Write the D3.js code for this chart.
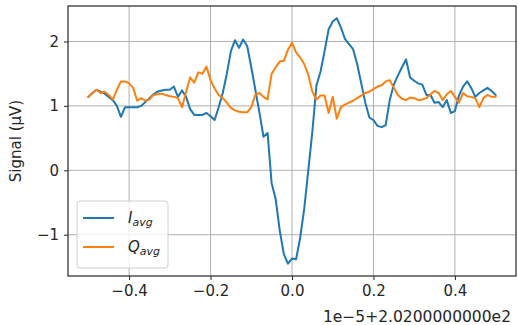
<!DOCTYPE html>
<html>
<head>
<meta charset="utf-8">
<script src="https://cdn.jsdelivr.net/npm/d3@7"></script>
<style>
  html, body { margin: 0; padding: 0; background: #fff; }
  svg { display: block; }
  text { font-family: "DejaVu Sans", sans-serif; fill: #262626; }
</style>
</head>
<body>
<svg id="chart" width="518" height="325"></svg>
<script>
// Frequency offset grid (units of 1e-5 around 202.0), 101 samples
const freqOffsets = d3.range(101).map(i => -0.5 + i * 0.01);

// Averaged in-phase signal (µV)
const iAvg = [
  1.14, 1.20, 1.25, 1.22, 1.19, 1.14, 1.09, 1.00, 0.83, 0.98,
  0.98, 0.98, 0.98, 1.00, 1.06, 1.12, 1.18, 1.22, 1.24, 1.25,
  1.25, 1.30, 1.14, 1.24, 1.14, 0.95, 0.86, 0.86, 0.86, 0.89,
  0.84, 0.78, 0.98, 1.20, 1.50, 1.85, 2.02, 1.90, 2.03, 1.93,
  1.60, 1.25, 0.90, 0.52, 0.58, -0.20, -0.45, -0.94, -1.30, -1.45,
  -1.37, -1.38, -1.05, -0.60, 0.00, 0.60, 1.32, 1.53, 1.85, 2.19,
  2.31, 2.36, 2.22, 2.04, 1.96, 1.88, 1.65, 1.35, 1.05, 0.82,
  0.78, 0.69, 0.67, 0.70, 1.09, 1.33, 1.47, 1.60, 1.72, 1.44,
  1.39, 1.35, 1.33, 1.17, 1.17, 1.05, 1.06, 0.98, 1.09, 0.89,
  0.92, 1.16, 1.30, 1.38, 1.28, 1.14, 1.20, 1.24, 1.28, 1.23,
  1.17
];

// Averaged quadrature signal (µV)
const qAvg = [
  1.14, 1.20, 1.25, 1.20, 1.22, 1.17, 1.10, 1.25, 1.38, 1.38,
  1.35, 1.28, 1.08, 1.12, 1.08, 1.10, 1.17, 1.18, 1.19, 1.17,
  1.15, 1.14, 1.12, 0.98, 1.22, 1.44, 1.36, 1.52, 1.50, 1.61,
  1.40, 1.27, 1.17, 1.12, 1.05, 0.97, 0.93, 0.91, 0.90, 0.90,
  0.98, 1.17, 1.20, 1.14, 1.10, 1.50, 1.60, 1.69, 1.70, 1.87,
  1.98, 1.83, 1.75, 1.65, 1.48, 1.22, 1.10, 1.16, 1.16, 0.89,
  1.14, 0.80, 0.98, 1.02, 1.05, 1.08, 1.12, 1.16, 1.20, 1.22,
  1.26, 1.30, 1.32, 1.38, 1.40, 1.28, 1.17, 1.11, 1.09, 1.13,
  1.12, 1.09, 1.10, 1.12, 1.18, 1.23, 1.20, 1.09, 1.18, 1.23,
  1.14, 1.05, 1.20, 1.15, 1.14, 1.12, 0.98, 1.12, 1.17, 1.14,
  1.14
];

const xTicks = [-0.4, -0.2, 0.0, 0.2, 0.4];
const yTicks = [-1, 0, 1, 2];
const seriesNames = ["I", "Q"];
const seriesColors = ["#1f77b4", "#ff7f0e"];
const yLabel = "Signal (µV)";
const offsetLabel = "1e\u22125+2.0200000000e2";

const svg = d3.select("#chart");
const margin = { left: 68, right: 2, top: 6, bottom: 49 };
const W = 518, H = 325;
const pw = W - margin.left - margin.right;
const ph = H - margin.top - margin.bottom;

// Autoscale with 5% padding on each side
const xExt = d3.extent(freqOffsets);
const xPad = (xExt[1] - xExt[0]) * 0.05;
const allY = iAvg.concat(qAvg);
const yExt = d3.extent(allY);
const yPad = (yExt[1] - yExt[0]) * 0.05;

const x = d3.scaleLinear().domain([xExt[0] - xPad, xExt[1] + xPad]).range([0, pw]);
const y = d3.scaleLinear().domain([yExt[0] - yPad, yExt[1] + yPad]).range([ph, 0]);

const g = svg.append("g").attr("transform", `translate(${margin.left},${margin.top})`);

// Grid
g.append("g").selectAll("line").data(xTicks).join("line")
  .attr("x1", d => x(d)).attr("x2", d => x(d))
  .attr("y1", 0).attr("y2", ph)
  .attr("stroke", "#b0b0b0").attr("stroke-width", 1);
g.append("g").selectAll("line").data(yTicks).join("line")
  .attr("x1", 0).attr("x2", pw)
  .attr("y1", d => y(d)).attr("y2", d => y(d))
  .attr("stroke", "#b0b0b0").attr("stroke-width", 1);

// Lines
const line = d3.line().x((d, i) => x(freqOffsets[i])).y(d => y(d));
[iAvg, qAvg].forEach((s, k) => {
  g.append("path").datum(s)
    .attr("d", line)
    .attr("fill", "none")
    .attr("stroke", seriesColors[k])
    .attr("stroke-width", 2)
    .attr("stroke-linejoin", "round")
    .attr("stroke-linecap", "square");
});

// Axes
const fmtX = d => (d < 0 ? "\u2212" : "") + Math.abs(d).toFixed(1);
const fmtY = d => (d < 0 ? "\u2212" : "") + Math.abs(d);

const xAxis = g.append("g").attr("transform", `translate(0,${ph})`)
  .call(d3.axisBottom(x).tickValues(xTicks).tickFormat(fmtX).tickSize(4).tickPadding(5));
const yAxis = g.append("g")
  .call(d3.axisLeft(y).tickValues(yTicks).tickFormat(fmtY).tickSize(4).tickPadding(5));
[xAxis, yAxis].forEach(a => {
  a.select(".domain").remove();
  a.selectAll(".tick line").attr("stroke", "#262626").attr("stroke-width", 1);
  a.selectAll(".tick text").attr("font-size", 15).attr("font-family", "DejaVu Sans, sans-serif").attr("fill", "#262626");
});

// Frame
g.append("rect").attr("x", 0).attr("y", 0).attr("width", pw).attr("height", ph)
  .attr("fill", "none").attr("stroke", "#262626").attr("stroke-width", 1.2);

// Y label
svg.append("text")
  .attr("transform", `translate(21,${margin.top + ph / 2}) rotate(-90)`)
  .attr("text-anchor", "middle")
  .attr("font-size", 15)
  .text(yLabel);

// Offset text
svg.append("text")
  .attr("x", 511).attr("y", 322)
  .attr("text-anchor", "end")
  .attr("font-size", 15.5)
  .text(offsetLabel);

// Legend
const lg = svg.append("g").attr("transform", "translate(77,201)");
lg.append("rect").attr("width", 91).attr("height", 67).attr("rx", 3)
  .attr("fill", "#fff").attr("fill-opacity", 0.8)
  .attr("stroke", "#d0d0d0").attr("stroke-width", 1);
seriesNames.forEach((n, k) => {
  const yy = 17 + k * 29;
  lg.append("line").attr("x1", 6).attr("x2", 37).attr("y1", yy).attr("y2", yy)
    .attr("stroke", seriesColors[k]).attr("stroke-width", 2);
  const t = lg.append("text").attr("x", 51).attr("y", yy + 5)
    .attr("font-size", 15).attr("font-style", "italic");
  t.append("tspan").text(n);
  t.append("tspan").attr("font-size", 11).attr("dy", 3).text("avg");
});
</script>
</body>
</html>
